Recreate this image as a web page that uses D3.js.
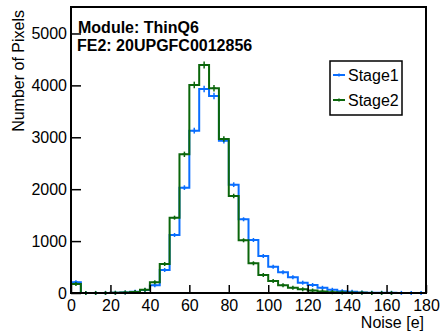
<!DOCTYPE html>
<html>
<head>
<meta charset="utf-8">
<script src="https://cdn.jsdelivr.net/npm/d3@7"></script>
<style>
  body { margin: 0; background: #fff; }
  svg { font-family: "Liberation Sans", Arial, sans-serif; }
</style>
</head>
<body>
<svg id="chart" width="440" height="331"></svg>
<script>
// bin edges every 5 e, from 0 to 180
var binLow = d3.range(0, 180, 5);

var stage1 = [206, 2, 1, 2, 4, 10, 22, 58, 148, 443, 1118, 2030, 3128, 3930, 3796, 2935,
              2087, 1420, 1021, 713, 507, 398, 302, 199, 154, 100, 62, 36, 22, 12, 7, 4, 3, 2, 1, 1];
var stage2 = [173, 1, 1, 1, 3, 8, 20, 62, 205, 559, 1451, 2672, 4008, 4393, 3944, 2967,
              1869, 1015, 572, 347, 231, 148, 102, 71, 48, 30, 16, 9, 5, 3, 2, 1, 1, 0, 0, 0];

var xTicks = d3.range(0, 181, 20);
var yTicks = d3.range(0, 5001, 1000);

var series = [
    {name: "Stage1", values: stage1, color: "#0a6eff"},
    {name: "Stage2", values: stage2, color: "#0b660b"}
];

var svg = d3.select("#chart");
var margin = {top: 7, left: 71, right: 14, bottom: 38};
var width = 440 - margin.left - margin.right,
    height = 331 - margin.top - margin.bottom;

var x = d3.scaleLinear().domain([0, 180]).range([margin.left, margin.left + width]);
var y = d3.scaleLinear().domain([0, 5510]).range([margin.top + height, margin.top]);

var g = svg.append("g");

// histograms
series.forEach(function(s) {
    var pts = [[0, 0]];
    s.values.forEach(function(v, i) { pts.push([binLow[i], v]); });
    pts.push([180, s.values[s.values.length - 1]]);

    var line = d3.line()
        .x(function(d) { return x(d[0]); })
        .y(function(d) { return y(d[1]); })
        .curve(d3.curveStepAfter);

    g.append("path")
        .datum(pts)
        .attr("fill", "none")
        .attr("stroke", s.color)
        .attr("stroke-width", 2)
        .attr("d", line);

    // error bars at the bin centres
    var eb = g.append("g").attr("stroke", s.color).attr("stroke-width", 1.5);
    s.values.forEach(function(v, i) {
        if (v < 1) return;
        var cx = x(binLow[i] + 2.5);
        var e = Math.max(y(0) - y(Math.sqrt(v)), 2);
        eb.append("line").attr("x1", cx).attr("x2", cx)
            .attr("y1", y(v) - e).attr("y2", y(v) + e);
        eb.append("line").attr("x1", cx - 2).attr("x2", cx + 2)
            .attr("y1", y(v)).attr("y2", y(v));
    });
});

// frame
svg.append("rect")
    .attr("x", margin.left).attr("y", margin.top)
    .attr("width", width).attr("height", height)
    .attr("fill", "none").attr("stroke", "#000").attr("stroke-width", 2);

// axes, ticks pointing inward
var xAxis = svg.append("g").attr("transform", "translate(0," + (margin.top + height) + ")");
xAxis.call(d3.axisBottom(x).tickValues(d3.range(0, 181, 5)).tickSize(-4).tickFormat(""));
xAxis.call(d3.axisBottom(x).tickValues(xTicks).tickSize(-8).tickPadding(7).tickFormat(d3.format("d")));

var yAxis = svg.append("g").attr("transform", "translate(" + margin.left + ",0)");
yAxis.call(d3.axisLeft(y).tickValues(d3.range(0, 5501, 200)).tickSize(-5).tickFormat(""));
yAxis.call(d3.axisLeft(y).tickValues(yTicks).tickSize(-10).tickPadding(4).tickFormat(d3.format("d")));

svg.selectAll(".domain").remove();
svg.selectAll(".tick line").attr("stroke", "#000").attr("stroke-width", 1.5);
svg.selectAll(".tick text")
    .attr("fill", "#000")
    .style("font-size", "16px")
    .style("font-family", "Liberation Sans, Arial, sans-serif");

// axis titles
svg.append("text")
    .attr("x", 424).attr("y", 327.5)
    .attr("text-anchor", "end")
    .style("font-size", "16px")
    .text("Noise [e]");

svg.append("text")
    .attr("transform", "translate(23.5,10) rotate(-90)")
    .attr("text-anchor", "end")
    .style("font-size", "16px")
    .text("Number of Pixels");

// module label
svg.append("text")
    .attr("x", 78).attr("y", 32.5)
    .style("font-size", "16px").style("font-weight", "bold")
    .text("Module: ThinQ6");
svg.append("text")
    .attr("x", 77).attr("y", 51)
    .style("font-size", "16px").style("font-weight", "bold")
    .text("FE2: 20UPGFC0012856");

// legend
var legend = svg.append("g").attr("transform", "translate(330,61)");
legend.append("rect")
    .attr("width", 72).attr("height", 54)
    .attr("fill", "#fff").attr("stroke", "#000").attr("stroke-width", 1.5);

series.forEach(function(s, i) {
    var ly = 14 + i * 25;
    legend.append("line")
        .attr("x1", 3).attr("x2", 15).attr("y1", ly).attr("y2", ly)
        .attr("stroke", s.color).attr("stroke-width", 2);
    legend.append("line")
        .attr("x1", 9).attr("x2", 9).attr("y1", ly - 1.5).attr("y2", ly + 1.5)
        .attr("stroke", s.color).attr("stroke-width", 1.5);
    legend.append("text")
        .attr("x", 18).attr("y", ly).attr("dy", "0.36em")
        .style("font-size", "16px")
        .text(s.name);
});
</script>
</body>
</html>
